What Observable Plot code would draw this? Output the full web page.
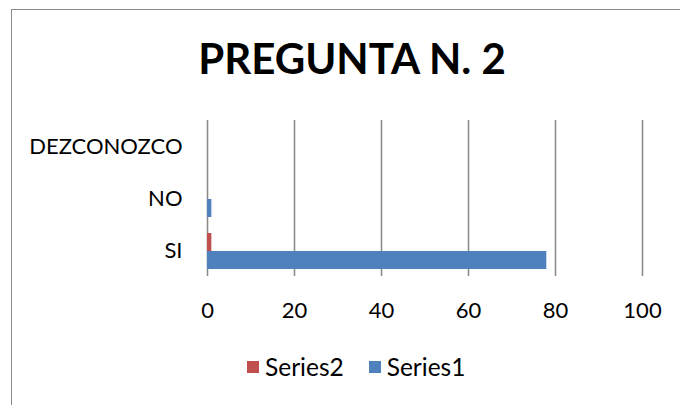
<!DOCTYPE html>
<html>
<head>
<meta charset="utf-8">
<script src="https://cdn.jsdelivr.net/npm/d3@7"></script>
<script src="https://cdn.jsdelivr.net/npm/@observablehq/plot@0.6"></script>
<style>
  html, body { margin: 0; padding: 0; background: #fff; }
  #wrap { position: relative; width: 680px; height: 405px; overflow: hidden; font-family: Lato, "Open Sans", sans-serif; }
  #frame { position: absolute; left: 11px; top: 9px; width: 700px; height: 420px; border-left: 1.5px solid #8a8a8a; border-top: 1.5px solid #8a8a8a; }
  #title { position: absolute; left: 0; width: 704px; top: 34px; text-align: center; font-weight: 700; font-size: 42px; color: #000; line-height: 48px; }
  #chart { position: absolute; left: 0; top: 0; }
  #legend { position: absolute; top: 352px; left: 247px; display: flex; align-items: center; font-size: 24.5px; color: #000; }
  .sw { width: 12px; height: 12px; display: inline-block; margin-right: 6px; }
  .item { display: flex; align-items: center; margin-right: 25px; }
</style>
</head>
<body>
<div id="wrap">
  <div id="frame"></div>
  <div id="chart"></div>
  <div id="title">PREGUNTA N. 2</div>
  <div id="legend"></div>
</div>
<script>
const categories = ["DEZCONOZCO", "NO", "SI"];
const seriesNames = ["Series2", "Series1"];
const series1 = [0, 1, 78];
const series2 = [0, 0, 1];
const xTicks = [0, 20, 40, 60, 80, 100];
const colors = {"Series1": "#4F81BD", "Series2": "#C0504D"};

const data = [];
categories.forEach((c, i) => {
  data.push({cat: c, series: "Series2", value: series2[i]});
  data.push({cat: c, series: "Series1", value: series1[i]});
});

const chart = Plot.plot({
  width: 680,
  height: 405,
  marginLeft: 207,
  marginRight: 38,
  marginTop: 120,
  marginBottom: 129,
  style: {fontFamily: "Lato, 'Open Sans', sans-serif", fontSize: "22px", color: "#000", background: "transparent"},
  x: {domain: [0, 100], ticks: xTicks, tickSize: 0, tickPadding: 26, label: null},
  fy: {domain: categories, padding: 0, label: null, tickSize: 0, tickPadding: 25},
  y: {domain: seriesNames, paddingInner: 0, paddingOuter: 0.4, axis: null},
  color: {domain: seriesNames, range: seriesNames.map(s => colors[s])},
  marks: [
    Plot.ruleX(xTicks, {stroke: "#8c8c8c", strokeWidth: 1.6}),
    Plot.barX(data, {fy: "cat", y: "series", x: "value", fill: "series", dy: 1})
  ]
});
document.getElementById("chart").appendChild(chart);

const legend = document.getElementById("legend");
seriesNames.forEach(s => {
  const it = document.createElement("div");
  it.className = "item";
  const sw = document.createElement("span");
  sw.className = "sw";
  sw.style.background = colors[s];
  const t = document.createElement("span");
  t.textContent = s;
  it.appendChild(sw); it.appendChild(t);
  legend.appendChild(it);
});
</script>
</body>
</html>
